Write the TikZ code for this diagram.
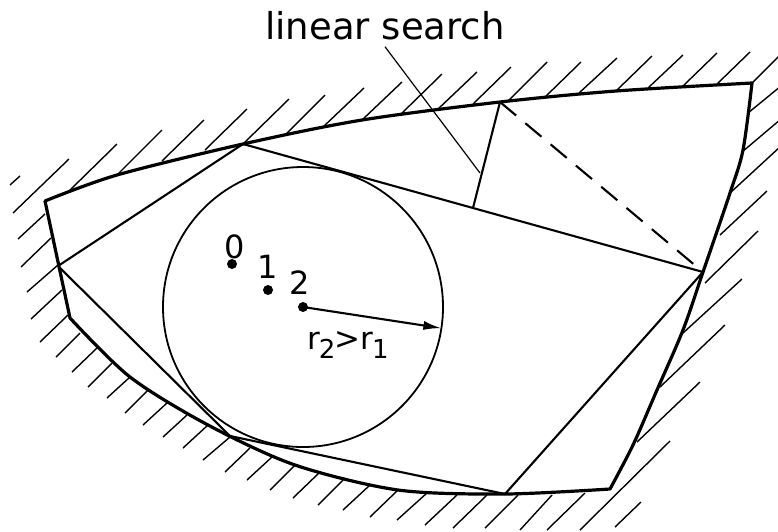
\documentclass[tikz,border=0pt]{standalone}
\usepackage{fontspec}
\setmainfont{DejaVu Sans}
\usetikzlibrary{arrows.meta}

\begin{document}
\begin{tikzpicture}[>=Latex, x=1pt, y=-1pt]

\tikzset{
    wall/.style={line width=3.2pt, line join=round},
    chord/.style={line width=2.1pt},
    hatch/.style={line width=1.4pt},
    ball/.style={line width=1.8pt},
    spoke/.style={line width=2.1pt, -{Latex[length=18pt, width=9pt]}},
    pointer/.style={line width=1.2pt},
    dot/.style={fill, circle, inner sep=0pt, minimum size=10pt},
    lbl/.style={font=\fontsize{32}{32}\selectfont, inner sep=0pt},
}

\useasboundingbox (0,0) rectangle (778,531);

% ============================================================
% points of the polygon and the circle
% ============================================================

\coordinate (C)  at (303,307);
\coordinate (P1) at (243,144);
\coordinate (P2) at (703,272);
\coordinate (P3) at (505,494);
\coordinate (P4) at (230,436);
\coordinate (P5) at (58,266);
\coordinate (S)  at (500,102);
\coordinate (T)  at (473,208);
\coordinate (ptr) at (480,173);

% ============================================================
% hatching outside the wall
% ============================================================

\foreach \ax/\ay/\bx/\by in {
    10/185/20/176, 13/213/69/159,
    68/192/117/144, 117/175/162/130, 162/161/204/120, 205/150/247/109,
    243/144/289/99, 285/135/325/95, 323/127/364/88, 362/120/402/82,
    400/115/442/74, 437/110/477/72, 473/104/511/67, 508/101/547/62,
    544/98/581/62, 579/93/617/58, 616/91/652/56, 648/88/683/55,
    683/86/717/53, 717/84/750/52, 752/83/781/54,
    748/113/781/86, 742/152/781/119, 730/193/781/146, 720/235/767/191,
    705/283/758/231, 683/333/742/279, 660/387/725/325, 637/442/700/382,
    580/530/670/441, 615/527/641/502} {
    \draw[hatch] (\ax,\ay) -- (\bx,\by);
}

\foreach \ax/\ay/\bx/\by in {
    585/493/547/530, 552/495/520/530, 518/495/485/528, 487/495/453/528,
    457/495/425/525, 427/493/397/520, 398/490/370/517, 370/485/343/510,
    345/478/318/505, 320/472/293/498, 295/465/270/490, 272/457/247/480,
    250/448/225/472, 230/437/203/460, 208/425/183/448, 187/415/163/437,
    167/403/143/425, 148/390/125/413, 130/377/107/398, 112/363/88/387,
    97/348/72/372, 80/333/56/357, 68/315/40/342,
    62/290/31/319, 58/265/27/292, 51/238/21/267, 45/214/18/239} {
    \draw[hatch] (\ax,\ay) -- (\bx,\by);
}

% ============================================================
% wall
% ============================================================

\draw[wall]
    plot[smooth] coordinates {(45,201) (117,175) (243,144) (362,120) (500,102) (616,91) (752,83)}
    -- plot[smooth] coordinates {(752,83) (743,150) (730,193) (703,272) (683,330) (657,390) (633,445) (610,489)}
    -- plot[smooth] coordinates {(610,489) (505,494) (398,490) (295,465) (208,425) (130,377) (70,318)}
    -- cycle;

% ============================================================
% polygon, search step and circle
% ============================================================

\draw[chord] (P5) -- (P1) -- (P2) -- (P3) -- (P4) -- (P5);
\draw[chord] (S) -- (T);
\draw[chord, dash pattern=on 21pt off 12pt] (S) -- (P2);

\draw[ball] (C) circle[radius=140];

\node[dot] (d0) at (232,264) {};
\node[dot] (d1) at (268,290) {};
\node[dot] (d2) at (C) {};

\node[lbl] (n0) at (235,247) {0};
\node[lbl] (n1) at (268,267) {1};
\node[lbl] (n2) at (300,283) {2};

\draw[spoke] (d2.center) -- ++(8.7:140);

\node[lbl, font=\fontsize{31}{31}\selectfont] (rr) at (348,345)
    {r\kern-1pt\raisebox{-9pt}{\fontsize{26}{26}\selectfont 2}\kern-1pt>r\kern-1pt\raisebox{-9pt}{\fontsize{26}{26}\selectfont 1}};

\node[font=\fontsize{37}{37}\selectfont, inner sep=0pt, anchor=base] (lin) at (385,39) {linear search};
\draw[pointer] ([yshift=-7pt]lin.south) -- (ptr);

\end{tikzpicture}
\end{document}
